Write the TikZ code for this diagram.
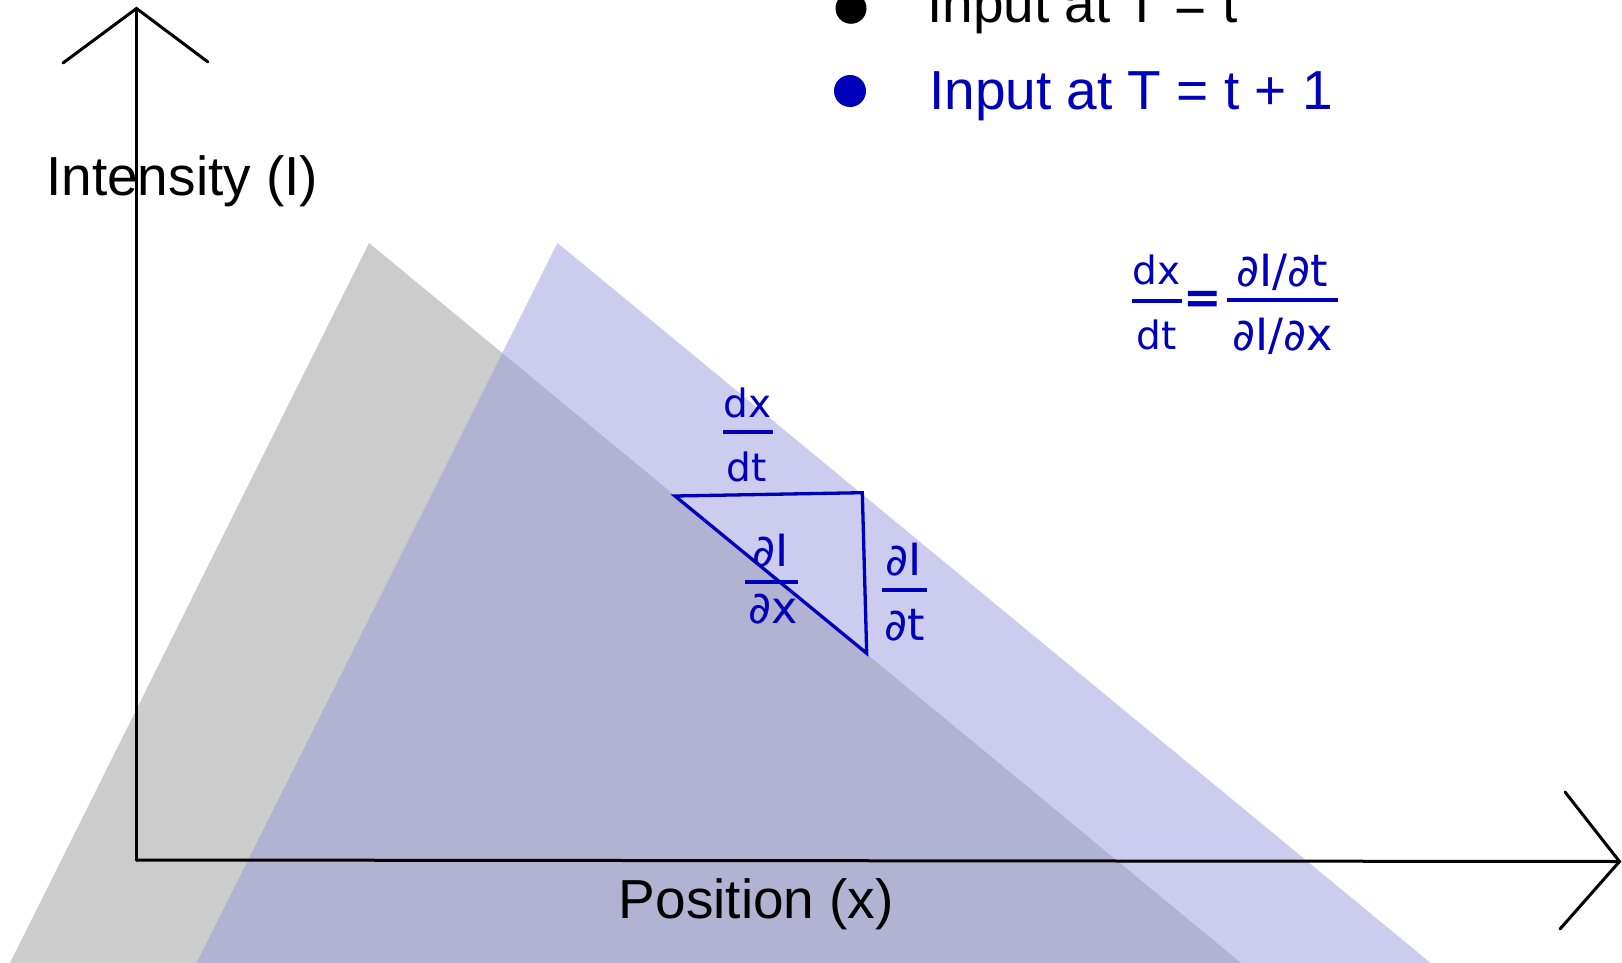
\documentclass[tikz,border=0pt]{standalone}
\usepackage{fontspec}
\setmainfont{Liberation Sans}
\newfontfamily\fracfont{DejaVu Sans}
\definecolor{myblue}{RGB}{0,0,187}
\definecolor{graytri}{RGB}{204,204,204}
\definecolor{bluetri}{RGB}{151,151,220}
\tikzset{
  axisline/.style={line width=3pt, black, line cap=round, line join=miter},
  biglabel/.style={font=\fontsize{55}{60}\selectfont, inner sep=0pt, anchor=base west},
  fraclabel/.style={font=\fracfont\fontsize{39}{44}\selectfont, text=myblue, inner sep=0pt, anchor=base},
  partlabel/.style={font=\fracfont\fontsize{44.5}{48}\selectfont, text=myblue, inner sep=0pt, anchor=base},
  fracbar/.style={line width=3.6pt, myblue},
  smalltri/.style={line width=3.3pt, myblue, line join=miter},
}
\begin{document}
\begin{tikzpicture}[x=1pt,y=-1pt]
\useasboundingbox (0,0) rectangle (1622,963);
\begin{scope}
\clip (0,0) rectangle (1622,963);
% triangles
\fill[graytri] (369,243) -- (10,963) -- (1241,963) -- cycle;
\fill[bluetri, opacity=0.49] (557.5,243) -- (196.5,963) -- (1430.6,963) -- cycle;
% labels
\node[biglabel] (ilab) at (46,195) {Intensity (I)};
\node[biglabel] (plab) at (618.6,918.6) {Position (x)};
% axes
\coordinate (O) at (136.5,860);
\coordinate (Y) at (136.5,8.5);
\coordinate (Yl) at (63,63);
\coordinate (Yr) at (208,62);
\coordinate (X) at (1619.5,861.5);
\coordinate (Xu) at (1565,792);
\coordinate (Xd) at (1560,929);
\draw[axisline] (O) -- (Y);
\draw[axisline] (Yl) -- (Y) -- (Yr);
\draw[axisline] (O) -- (X);
\draw[axisline] (Xu) -- (X) -- (Xd);
% legend
\fill[black] (851,8.3) circle (15.5);
\node[biglabel] (leg1) at (927,23) {Input at T = t};
\fill[myblue] (850,91) circle (16);
\node[biglabel, text=myblue] (leg2) at (929,109.6) {Input at T = t + 1};
% main formula
\node[fraclabel] (fa) at (1156.7,284.5) {dx};
\node[fraclabel] (fb) at (1156.7,349) {dt};
\draw[fracbar] (1131.7,300.7) -- (1181.7,300.7);
\node[fraclabel, anchor=center, font=\fracfont\bfseries\fontsize{46}{50}\selectfont] (eq) at (1203,302) {=};
\node[partlabel] (fc) at (1282.3,286) {∂I/∂t};
\node[partlabel] (fd) at (1282.3,350.5) {∂I/∂x};
\draw[fracbar] (1226.7,300) -- (1338,300);
% small triangle
\coordinate (A) at (675,496);
\coordinate (B) at (862.3,492.7);
\coordinate (C) at (866.7,653.3);
\draw[smalltri] (A) -- (B) -- (C) -- cycle;
% dx/dt above
\node[fraclabel] (ga) at (747.5,417.5) {dx};
\node[fraclabel] (gb) at (747,481) {dt};
\draw[fracbar] (723,431.7) -- (773,431.7);
% dI/dx
\node[partlabel] (ha) at (771,566) {∂I};
\node[partlabel] (hb) at (773,623) {∂x};
\draw[fracbar] (745,581.7) -- (798,581.7);
% dI/dt
\node[partlabel] (ka) at (904,575.5) {∂I};
\node[partlabel] (kb) at (905,640.5) {∂t};
\draw[fracbar] (881.7,590) -- (926.7,590);
\end{scope}
\end{tikzpicture}
\end{document}
